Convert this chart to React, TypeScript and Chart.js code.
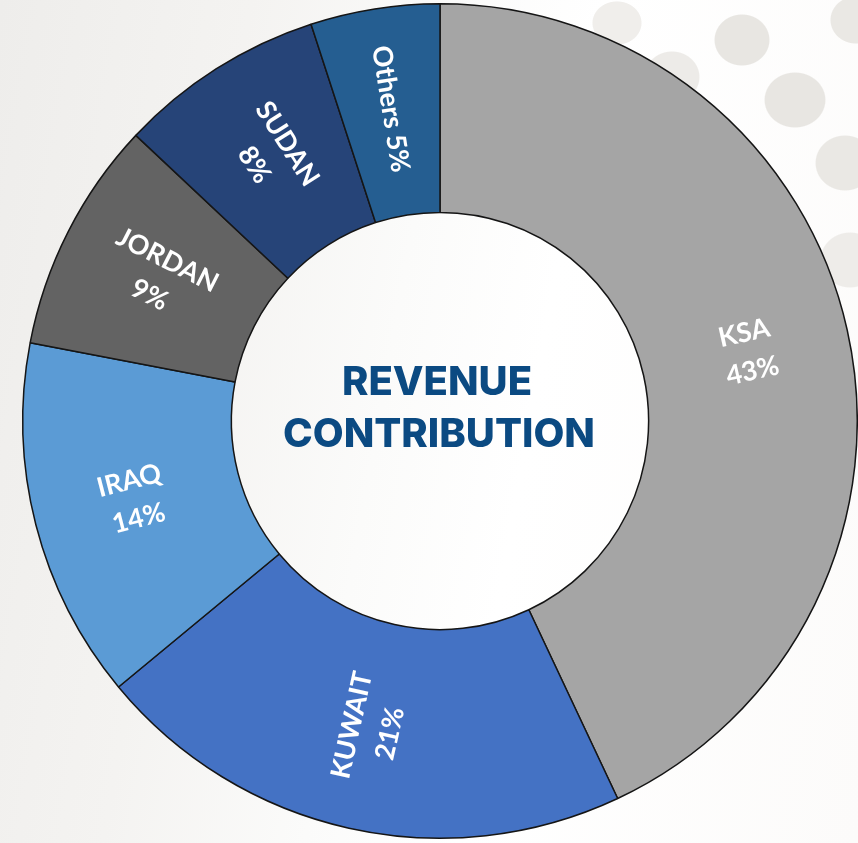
import React, { useEffect, useRef } from 'react';
import { Chart, registerables } from 'chart.js';

Chart.register(...registerables);

const categories = ['KSA', 'KUWAIT', 'IRAQ', 'JORDAN', 'SUDAN', 'Others'];
const shares = [43, 21, 14, 9, 8, 5];
const sliceColors = ['#a5a5a5', '#4472c4', '#5b9bd5', '#636363', '#264478', '#255e91'];
const singleLineLabel = [false, false, false, false, false, true];
const centerTitle = ['REVENUE', 'CONTRIBUTION'];

const W = 858;
const H = 843;

const sliceLabelPlugin = {
  id: 'sliceLabels',
  afterDatasetsDraw(chart: any) {
    const ctx = chart.ctx as CanvasRenderingContext2D;
    const meta = chart.getDatasetMeta(0);
    meta.data.forEach((arc: any, i: number) => {
      const p = arc.getProps(['startAngle', 'endAngle', 'innerRadius', 'outerRadius', 'x', 'y'], true);
      const mid = (p.startAngle + p.endAngle) / 2;
      const r = (p.innerRadius + p.outerRadius) / 2 + 3;
      const cx = p.x + Math.cos(mid) * r;
      const cy = p.y + Math.sin(mid) * r;
      let rot = Math.atan2(Math.sin(mid), Math.cos(mid));
      if (rot > Math.PI / 2) rot -= Math.PI;
      else if (rot < -Math.PI / 2) rot += Math.PI;
      const lines = singleLineLabel[i]
        ? [`${categories[i]} ${shares[i]}%`]
        : [categories[i], `${shares[i]}%`];
      ctx.save();
      ctx.translate(cx, cy);
      ctx.rotate(rot);
      ctx.fillStyle = '#ffffff';
      ctx.font = 'bold 27px Lato, "Open Sans", sans-serif';
      ctx.textAlign = 'center';
      ctx.textBaseline = 'middle';
      const lh = 39;
      lines.forEach((t, j) => {
        ctx.fillText(t, 0, (j - (lines.length - 1) / 2) * lh);
      });
      ctx.restore();
    });
  },
};

const centerTextPlugin = {
  id: 'centerText',
  afterDatasetsDraw(chart: any) {
    const ctx = chart.ctx as CanvasRenderingContext2D;
    const meta = chart.getDatasetMeta(0);
    const arc = meta.data[0];
    if (!arc) return;
    const p = arc.getProps(['x', 'y'], true);
    ctx.save();
    ctx.fillStyle = '#0b4a82';
    ctx.font = '800 40px Inter, Roboto, Lato, sans-serif';
    ctx.textAlign = 'center';
    ctx.textBaseline = 'alphabetic';
    ctx.fillText(centerTitle[0], p.x - 3, p.y - 26);
    ctx.fillText(centerTitle[1], p.x - 1, p.y + 26);
    ctx.restore();
  },
};

export default function App() {
  const canvasRef = useRef<HTMLCanvasElement | null>(null);

  useEffect(() => {
    const canvas = canvasRef.current;
    if (!canvas) return;
    const chart = new Chart(canvas, {
      type: 'doughnut',
      data: {
        labels: categories,
        datasets: [
          {
            data: shares,
            backgroundColor: sliceColors,
            borderColor: '#151515',
            borderWidth: 1.5,
            hoverOffset: 0,
          },
        ],
      },
      options: {
        responsive: false,
        animation: false,
        cutout: '50%',
        layout: { padding: { left: 22, top: 3, right: 0, bottom: 4 } },
        plugins: {
          legend: { display: false },
          tooltip: { enabled: false },
          title: { display: false },
        },
      },
      plugins: [sliceLabelPlugin, centerTextPlugin],
    });
    return () => chart.destroy();
  }, []);

  const dots = [
    'radial-gradient(ellipse 28px 26px at 742px 40px, #e8e6e2 96%, transparent 100%)',
    'radial-gradient(ellipse 31px 28px at 795px 100px, #e8e6e2 96%, transparent 100%)',
    'radial-gradient(ellipse 30px 28px at 845px 163px, #eae8e4 96%, transparent 100%)',
    'radial-gradient(ellipse 26px 24px at 856px 20px, #eae8e4 96%, transparent 100%)',
    'radial-gradient(ellipse 28px 26px at 672px 77px, #edebe8 96%, transparent 100%)',
    'radial-gradient(ellipse 25px 22px at 617px 23px, #f0eeeb 96%, transparent 100%)',
    'radial-gradient(ellipse 30px 28px at 850px 260px, #eeece9 96%, transparent 100%)',
  ];

  return (
    <div
      style={{
        position: 'absolute',
        left: 0,
        top: 0,
        width: W,
        height: H,
        background: [
          ...dots,
          'linear-gradient(100deg, #eeedeb 0%, #f4f3f1 25%, #fbfbfa 45%, #ffffff 60%, #fcfbfa 100%)',
        ].join(', '),
      }}
    >
      <canvas ref={canvasRef} width={W} height={H} style={{ display: 'block' }} />
    </div>
  );
}
